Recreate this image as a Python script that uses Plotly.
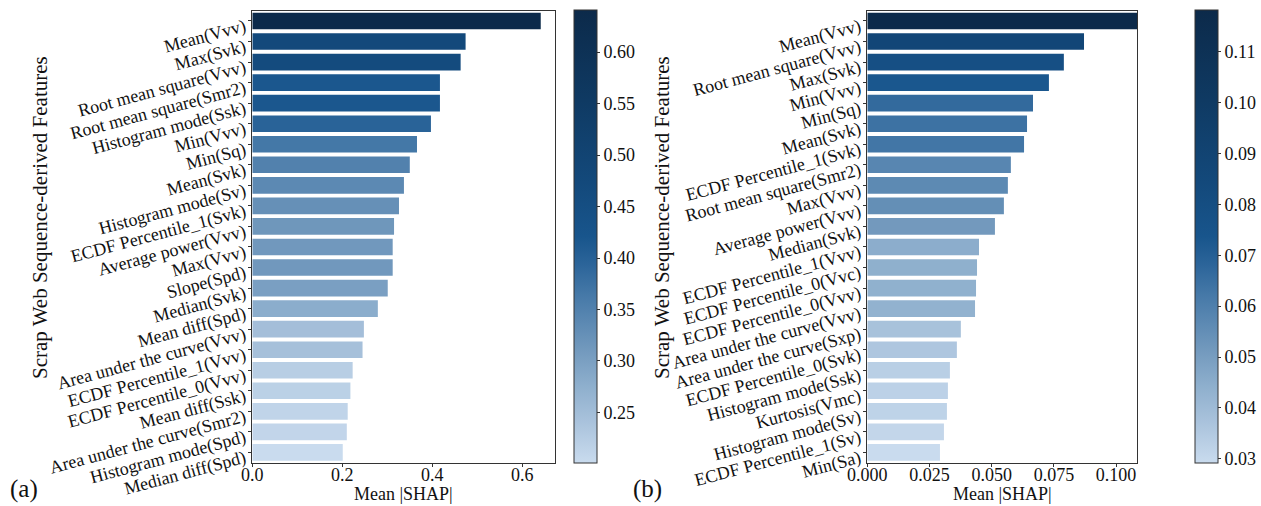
import plotly.graph_objects as go

# ---------------- data ----------------
features_a = ["Mean(Vvv)", "Max(Svk)", "Root mean square(Vvv)", "Root mean square(Smr2)",
              "Histogram mode(Ssk)", "Min(Vvv)", "Min(Sq)", "Mean(Svk)", "Histogram mode(Sv)",
              "ECDF Percentile_1(Svk)", "Average power(Vvv)", "Max(Vvv)", "Slope(Spd)",
              "Median(Svk)", "Mean diff(Spd)", "Area under the curve(Vvv)",
              "ECDF Percentile_1(Vvv)", "ECDF Percentile_0(Vvv)", "Mean diff(Ssk)",
              "Area under the curve(Smr2)", "Histogram mode(Spd)", "Median diff(Spd)"]
shap_a = [0.641, 0.474, 0.463, 0.417, 0.417, 0.397, 0.366, 0.350, 0.337, 0.326, 0.315,
          0.312, 0.312, 0.301, 0.279, 0.248, 0.245, 0.223, 0.218, 0.212, 0.210, 0.201]

features_b = ["Mean(Vvv)", "Root mean square(Vvv)", "Max(Svk)", "Min(Vvv)", "Min(Sq)",
              "Mean(Svk)", "ECDF Percentile_1(Svk)", "Root mean square(Smr2)", "Max(Vvv)",
              "Average power(Vvv)", "Median(Svk)", "ECDF Percentile_1(Vvv)",
              "ECDF Percentile_0(Vvc)", "ECDF Percentile_0(Vvv)", "Area under the curve(Vvv)",
              "Area under the curve(Sxp)", "ECDF Percentile_0(Svk)", "Histogram mode(Ssk)",
              "Kurtosis(Vmc)", "Histogram mode(Sv)", "ECDF Percentile_1(Sv)", "Min(Sa)"]
shap_b = [0.1182, 0.0871, 0.0790, 0.0730, 0.0666, 0.0642, 0.0630, 0.0577, 0.0565, 0.0549,
          0.0513, 0.0449, 0.0441, 0.0437, 0.0433, 0.0376, 0.0360, 0.0332, 0.0324, 0.0320,
          0.0308, 0.0292]

ticks_cb_a = [0.25, 0.30, 0.35, 0.40, 0.45, 0.50, 0.55, 0.60]
ticks_cb_b = [0.03, 0.04, 0.05, 0.06, 0.07, 0.08, 0.09, 0.10, 0.11]
ticks_x_a = [0.0, 0.2, 0.4, 0.6]
ticks_x_b = [0.0, 0.025, 0.05, 0.075, 0.1]

ytitle = "Scrap Web Sequence-derived Features"
xtitle = "Mean |SHAP|"

# ---------------- style ----------------
W, H = 1261, 506
FONT = "Liberation Serif"
colorscale = [
    [0.00, "#c9dbee"],
    [0.10, "#a6c0da"],
    [0.17, "#8eafcd"],
    [0.25, "#7299bd"],
    [0.37, "#4679a8"],
    [0.44, "#2b6499"],
    [0.50, "#18558c"],
    [0.62, "#13497b"],
    [0.80, "#0f3a63"],
    [1.00, "#0c2a4a"],
]

def px_x(p):
    return p / W

def px_y(p):
    return 1 - p / H

plot_top, plot_bot = 10.7, 462.7
ydom = [px_y(plot_bot), px_y(plot_top)]
xdom_a = [px_x(252.3), px_x(555.0)]
xdom_b = [px_x(867.3), px_x(1137.0)]

fig = go.Figure()

def add_panel(feats, vals, xaxis, yaxis, cbx, cbticks, cbfmt):
    fig.add_trace(go.Bar(
        x=vals, y=feats, orientation="h", xaxis=xaxis, yaxis=yaxis,
        marker=dict(
            color=vals, colorscale=colorscale, cmin=min(vals), cmax=max(vals),
            line=dict(width=0), showscale=True,
            colorbar=dict(
                x=cbx, xanchor="left", xpad=0, ypad=0,
                y=px_y((plot_top + plot_bot) / 2 - 0.3), yanchor="middle",
                len=(plot_bot - plot_top + 0.6) / H, lenmode="fraction",
                thickness=23, thicknessmode="pixels",
                outlinewidth=1, outlinecolor="#333333",
                tickvals=cbticks, tickformat=cbfmt, ticks="outside", ticklen=3,
                tickcolor="#333333",
                tickfont=dict(family=FONT, size=18, color="#111111"),
            ),
        ),
        showlegend=False, hoverinfo="x+y",
    ))

add_panel(features_a, shap_a, "x", "y", px_x(574), ticks_cb_a, ".2f")
add_panel(features_b, shap_b, "x2", "y2", px_x(1195), ticks_cb_b, ".2f")

axis_common = dict(
    showgrid=False, zeroline=False, showline=True, linecolor="#333333", linewidth=1,
    mirror=True, ticks="outside", ticklen=3, tickcolor="#333333", automargin=False,
    tickfont=dict(family=FONT, size=18, color="#111111"),
)

fig.update_layout(
    width=W, height=H,
    margin=dict(l=0, r=0, t=0, b=0),
    paper_bgcolor="white", plot_bgcolor="white",
    bargap=0.19,
    font=dict(family=FONT, size=18, color="#111111"),
    xaxis=dict(domain=xdom_a, anchor="y", range=[0, 0.6727], tickvals=ticks_x_a,
               tickformat=".1f", ticklabelstandoff=-7, **axis_common),
    yaxis=dict(domain=ydom, anchor="x", autorange="reversed", tickangle=-15,
               tickmode="array", tickvals=features_a, ticktext=features_a,
               ticklabelshift=-4, **axis_common),
    xaxis2=dict(domain=xdom_b, anchor="y2", range=[0, 0.1084], tickvals=ticks_x_b,
                tickformat=".3f", ticklabelstandoff=-7, **axis_common),
    yaxis2=dict(domain=ydom, anchor="x2", autorange="reversed", tickangle=-15,
                tickmode="array", tickvals=features_b, ticktext=features_b,
                ticklabelshift=-4, **axis_common),
)

xt_font = dict(family=FONT, size=18, color="#111111")
yt_font = dict(family=FONT, size=21, color="#111111")
annotations = [
    dict(text=xtitle, x=px_x((252.3 + 555) / 2), y=px_y(494), xref="paper", yref="paper",
         showarrow=False, font=xt_font, xanchor="center", yanchor="middle"),
    dict(text=xtitle, x=px_x((867.3 + 1137) / 2), y=px_y(494), xref="paper", yref="paper",
         showarrow=False, font=xt_font, xanchor="center", yanchor="middle"),
    dict(text=ytitle, x=px_x(40), y=px_y(218), xref="paper", yref="paper",
         showarrow=False, font=yt_font, textangle=-90, xanchor="center", yanchor="middle"),
    dict(text=ytitle, x=px_x(662), y=px_y(218), xref="paper", yref="paper",
         showarrow=False, font=yt_font, textangle=-90, xanchor="center", yanchor="middle"),
    dict(text="(a)", x=px_x(24), y=px_y(489), xref="paper", yref="paper",
         showarrow=False, font=dict(family=FONT, size=25, color="#111111"),
         xanchor="center", yanchor="middle"),
    dict(text="(b)", x=px_x(648), y=px_y(489), xref="paper", yref="paper",
         showarrow=False, font=dict(family=FONT, size=25, color="#111111"),
         xanchor="center", yanchor="middle"),
]
fig.update_layout(annotations=annotations)

fig.write_html("out.html", config={"displayModeBar": False},
               post_script="document.body.style.margin='0';document.body.style.padding='0';")
